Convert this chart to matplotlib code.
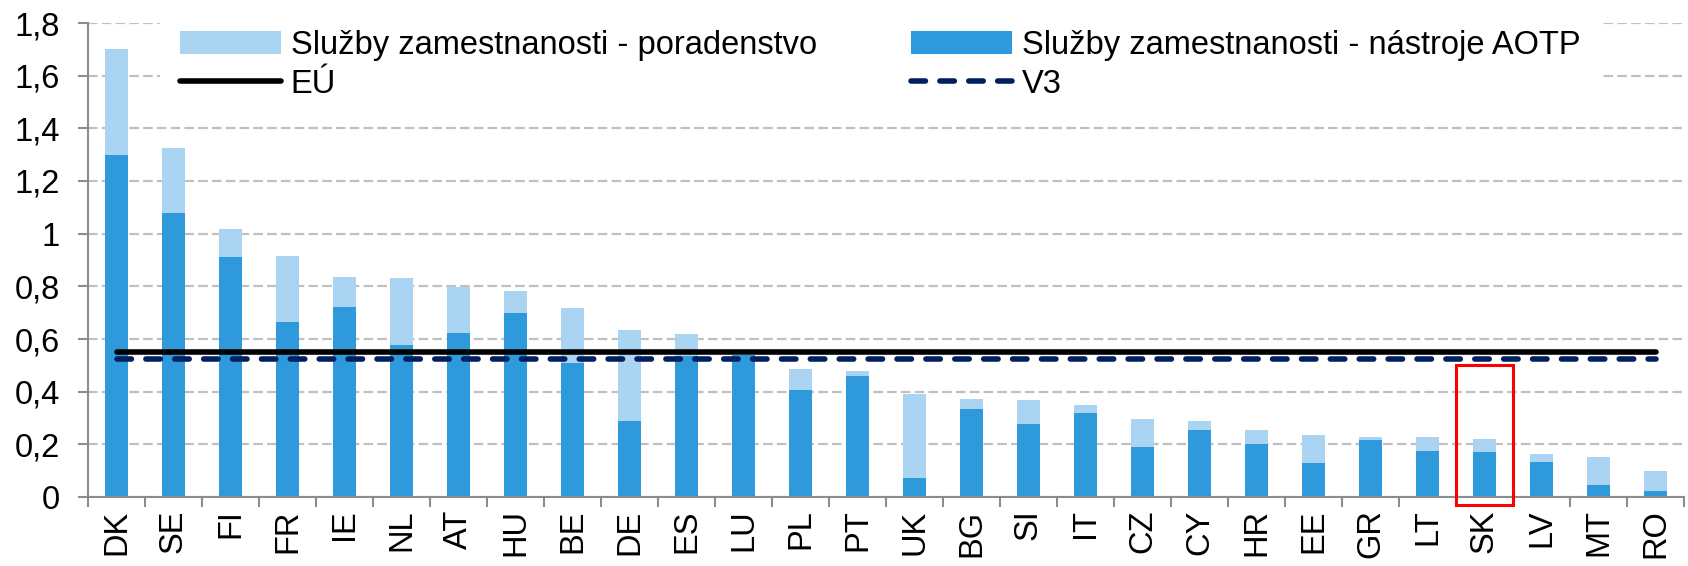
import matplotlib.pyplot as plt
from matplotlib.patches import Rectangle
import numpy as np

plt.rcParams['font.family'] = ['Liberation Sans', 'DejaVu Sans']

countries = ['DK', 'SE', 'FI', 'FR', 'IE', 'NL', 'AT', 'HU', 'BE', 'DE', 'ES', 'LU', 'PL', 'PT',
             'UK', 'BG', 'SI', 'IT', 'CZ', 'CY', 'HR', 'EE', 'GR', 'LT', 'SK', 'LV', 'MT', 'RO']
aotp = [1.30, 1.077, 0.911, 0.665, 0.722, 0.577, 0.623, 0.699, 0.510, 0.289, 0.535, 0.540, 0.406, 0.459,
        0.072, 0.334, 0.277, 0.320, 0.190, 0.254, 0.201, 0.130, 0.216, 0.173, 0.170, 0.133, 0.046, 0.023]
poradenstvo = [0.400, 0.247, 0.106, 0.250, 0.112, 0.255, 0.173, 0.082, 0.206, 0.347, 0.083, 0.0, 0.079, 0.021,
               0.319, 0.037, 0.091, 0.028, 0.105, 0.035, 0.053, 0.104, 0.013, 0.056, 0.049, 0.030, 0.105, 0.075]
eu_avg = 0.55
v3_avg = 0.525
yticks = [0, 0.2, 0.4, 0.6, 0.8, 1, 1.2, 1.4, 1.6, 1.8]
ytick_labels = ['0', '0,2', '0,4', '0,6', '0,8', '1', '1,2', '1,4', '1,6', '1,8']

dark = '#2E9ADC'
light = '#ABD3F2'
grey = '#8C8C8C'

fig = plt.figure(figsize=(16.88, 5.66), dpi=100)
ax = fig.add_axes([88 / 1688, 1 - 497 / 566, 1596 / 1688, 474 / 566])

x = np.arange(len(countries))
ax.bar(x, aotp, width=0.39, color=dark, zorder=2, label='Služby zamestnanosti - nástroje AOTP')
ax.bar(x, poradenstvo, width=0.39, bottom=aotp, color=light, zorder=2,
       label='Služby zamestnanosti - poradenstvo')
ax.plot([x[0], x[-1]], [eu_avg, eu_avg], color='black', lw=4, solid_capstyle='round',
        zorder=4, label='EÚ')
v3_line, = ax.plot([x[0], x[-1]], [v3_avg, v3_avg], color='#002060', lw=4,
                   dash_capstyle='round', zorder=3, label='V3')
v3_line.set_dashes([2.6, 2.6])

# red frame around SK
sk = countries.index('SK')
ax.add_patch(Rectangle((sk - 0.5, -0.03), 1, 0.53, fill=False, edgecolor='red', lw=2.2,
                       clip_on=False, zorder=5))

ax.set_xlim(-0.5, len(countries) - 0.5)
ax.set_ylim(0, 1.8)
ax.set_yticks(yticks)
ax.set_yticklabels(ytick_labels)
ax.set_xticks(x)
ax.set_xticklabels(countries, rotation=90)
ax.set_xticks(np.arange(len(countries) + 1) - 0.5, minor=True)
ax.tick_params(axis='x', which='major', length=0, pad=9, labelsize=23.5)
ax.tick_params(axis='x', which='minor', length=7.5, width=1.5, color=grey)
ax.tick_params(axis='y', length=7, width=1.5, color=grey, pad=13, labelsize=23.5)

ax.grid(axis='y', color='#C0C0C0', lw=1.6, linestyle=(0, (4.3, 1.9)), zorder=0)
ax.set_axisbelow(True)
for s in ['top', 'right']:
    ax.spines[s].set_visible(False)
for s in ['left', 'bottom']:
    ax.spines[s].set_color(grey)
    ax.spines[s].set_linewidth(1.5)

h, l = ax.get_legend_handles_labels()
order = [l.index('Služby zamestnanosti - poradenstvo'), l.index('EÚ'),
         l.index('Služby zamestnanosti - nástroje AOTP'), l.index('V3')]
leg = ax.legend([h[i] for i in order], [l[i] for i in order], ncol=2, loc='upper left',
                bbox_to_anchor=(160 / 1688, 1 - 10 / 566, 1440 / 1688, 0),
                bbox_transform=fig.transFigure, mode='expand', fontsize=23.5,
                frameon=True, facecolor='white', edgecolor='none', framealpha=1,
                fancybox=False, borderpad=0.6, borderaxespad=0, handlelength=3.1,
                handletextpad=0.3, labelspacing=0.25)
leg.set_zorder(6)

fig.savefig('out.png', dpi=100)
